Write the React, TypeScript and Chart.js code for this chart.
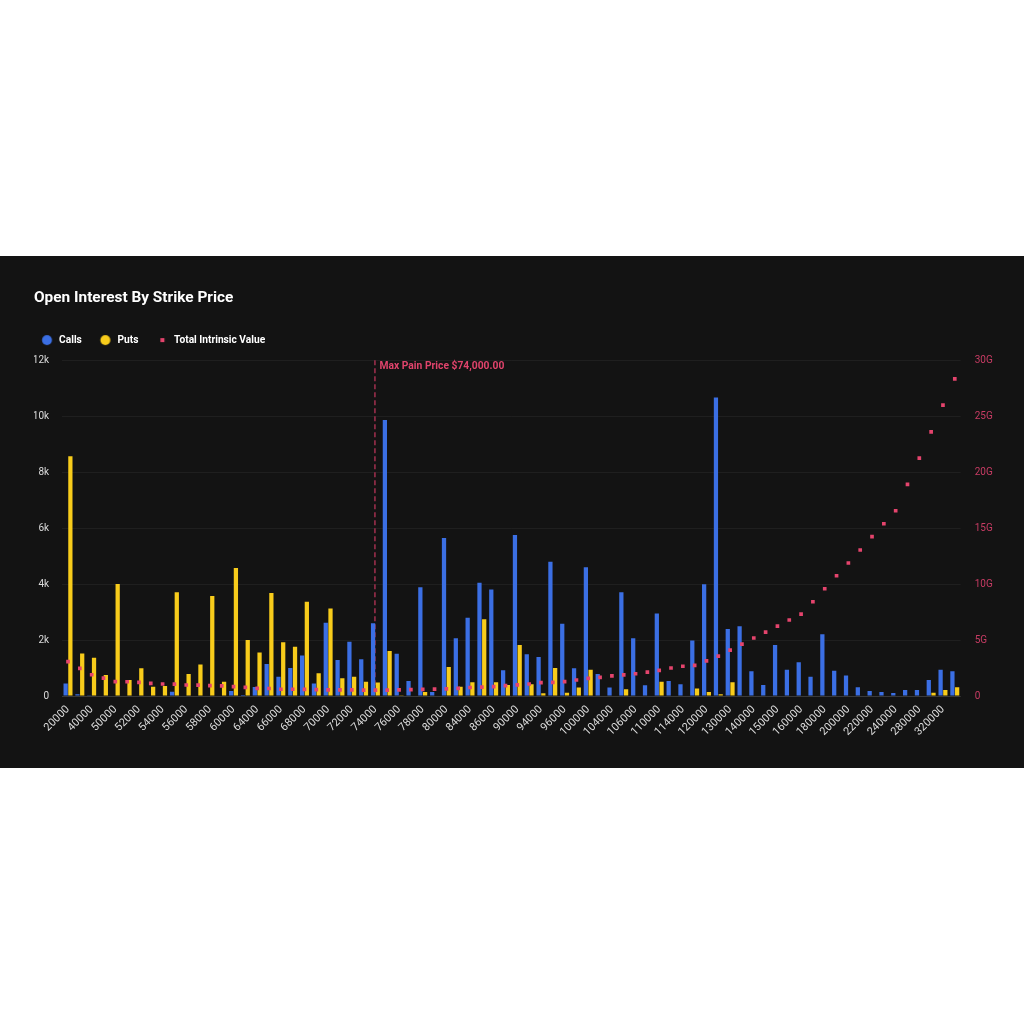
import React, { useEffect, useRef } from 'react';
import { Chart, registerables } from 'chart.js';

Chart.register(...registerables);

// ---------- data ----------
const strikes = [
  20000, 30000, 40000, 45000, 50000, 51000, 52000, 53000, 54000, 55000,
  56000, 57000, 58000, 59000, 60000, 62000, 64000, 65000, 66000, 67000,
  68000, 69000, 70000, 71000, 72000, 73000, 74000, 75000, 76000, 77000,
  78000, 79000, 80000, 82000, 84000, 85000, 86000, 88000, 90000, 92000,
  94000, 95000, 96000, 98000, 100000, 102000, 104000, 105000, 106000, 108000,
  110000, 112000, 114000, 115000, 120000, 125000, 130000, 135000, 140000, 145000,
  150000, 155000, 160000, 170000, 180000, 190000, 200000, 210000, 220000, 230000,
  240000, 260000, 280000, 300000, 320000, 340000,
];

const callsOI = [
  450, 60, 30, 0, 0, 0, 0, 0, 0, 150,
  0, 0, 0, 0, 180, 40, 320, 1140, 690, 1000,
  1450, 450, 2620, 1290, 1940, 1310, 2600, 9860, 1510, 540,
  3890, 140, 5650, 2060, 2800, 4050, 3810, 920, 5750, 1490,
  1390, 4800, 2580, 990, 4600, 790, 300, 3710, 2060, 380,
  2950, 540, 420, 1980, 3990, 10670, 2390, 2490, 880, 390,
  1820, 940, 1210, 690, 2210, 900, 730, 310, 180, 140,
  110, 210, 210, 570, 940, 880,
];

const putsOI = [
  8570, 1520, 1370, 750, 4000, 570, 990, 330, 360, 3710,
  790, 1130, 3570, 510, 4570, 2000, 1550, 3680, 1920, 1760,
  3370, 810, 3130, 630, 690, 510, 480, 1610, 30, 0,
  140, 0, 1040, 330, 490, 2740, 490, 390, 1820, 420,
  100, 1000, 120, 300, 940, 0, 0, 240, 0, 0,
  510, 0, 0, 270, 140, 60, 490, 0, 0, 0,
  0, 0, 20, 20, 0, 0, 0, 0, 0, 0,
  0, 0, 0, 120, 210, 310,
];

// Total intrinsic value, in billions (G)
const totalIntrinsicValueG = [
  3.07, 2.47, 1.9, 1.6, 1.28, 1.27, 1.22, 1.13, 1.07, 1.06,
  0.98, 0.97, 0.92, 0.9, 0.83, 0.77, 0.68, 0.67, 0.6, 0.6,
  0.59, 0.57, 0.55, 0.54, 0.54, 0.53, 0.52, 0.53, 0.54, 0.57,
  0.59, 0.61, 0.63, 0.68, 0.76, 0.79, 0.84, 0.92, 0.99, 1.07,
  1.19, 1.22, 1.28, 1.43, 1.58, 1.67, 1.8, 1.88, 1.99, 2.14,
  2.29, 2.5, 2.66, 2.74, 3.13, 3.57, 4.1, 4.64, 5.18, 5.71,
  6.25, 6.79, 7.32, 8.42, 9.58, 10.74, 11.88, 13.04, 14.23, 15.39,
  16.55, 18.9, 21.25, 23.6, 25.98, 28.33,
];

const maxPainStrike = 74000;
const maxPainText = 'Max Pain Price $74,000.00';
const titleText = 'Open Interest By Strike Price';
const legendLabels = ['Calls', 'Puts', 'Total Intrinsic Value'];

// ---------- styles ----------
const BG = '#131313';
const BLUE = '#3b6fe4';
const YELLOW = '#f8cc1b';
const RED = '#e5446d';
const RED_AXIS = '#c83c64';
const RED_LINE = '#a3304f';
const TEXT = '#dcdcdc';

function makeMarker(kind: 'circle' | 'square', color: string, offset: number): HTMLCanvasElement {
  const c = document.createElement('canvas');
  c.width = 24;
  c.height = 12;
  const g = c.getContext('2d')!;
  g.fillStyle = color;
  const cx = 12 + offset;
  if (kind === 'circle') {
    g.beginPath();
    g.arc(cx, 6, 5, 0, Math.PI * 2);
    g.fill();
  } else {
    g.fillRect(cx - 2, 4, 4, 4);
  }
  return c;
}

const legendShiftPlugin = {
  id: 'legendShift',
  afterLayout(chart: any) {
    const l = chart.legend;
    if (l) {
      l.left -= 10.5;
      l.right -= 10.5;
    }
  },
};

const maxPainPlugin = {
  id: 'maxPain',
  beforeDatasetsDraw(chart: any) {
    const { ctx, chartArea, scales } = chart;
    const idx = strikes.indexOf(maxPainStrike);
    const x = scales.x.getPixelForValue(idx) - 0.5;
    ctx.save();
    ctx.strokeStyle = RED_LINE;
    ctx.lineWidth = 1.5;
    ctx.setLineDash([5, 3]);
    ctx.beginPath();
    ctx.moveTo(x, chartArea.top);
    ctx.lineTo(x, chartArea.bottom);
    ctx.stroke();
    ctx.restore();
  },
  afterDatasetsDraw(chart: any) {
    const { ctx, chartArea, scales } = chart;
    const idx = strikes.indexOf(maxPainStrike);
    const x = scales.x.getPixelForValue(idx);
    ctx.save();
    ctx.fillStyle = '#e0446c';
    ctx.font = 'bold 10.3px Roboto';
    ctx.textAlign = 'left';
    ctx.textBaseline = 'middle';
    ctx.fillText(maxPainText, x + 4, chartArea.top + 6);
    ctx.restore();
  },
};

export default function App() {
  const ref = useRef<HTMLCanvasElement | null>(null);

  useEffect(() => {
    if (!ref.current) return;
    const callsMarker = makeMarker('circle', BLUE, 5.75);
    const putsMarker = makeMarker('circle', YELLOW, 5.75);
    const tivMarker = makeMarker('square', RED, 6.25);

    const chart = new Chart(ref.current, {
      type: 'bar',
      data: {
        labels: strikes.map(String),
        datasets: [
          {
            type: 'bar',
            label: legendLabels[0],
            data: callsOI,
            backgroundColor: BLUE,
            borderWidth: 0,
            yAxisID: 'y',
            order: 1,
          },
          {
            type: 'bar',
            label: legendLabels[1],
            data: putsOI,
            backgroundColor: YELLOW,
            borderWidth: 0,
            yAxisID: 'y',
            order: 1,
          },
          {
            type: 'line',
            label: legendLabels[2],
            data: totalIntrinsicValueG,
            yAxisID: 'y1',
            showLine: false,
            pointStyle: 'rect',
            pointRadius: 2.6,
            pointBackgroundColor: RED,
            pointBorderColor: RED,
            pointBorderWidth: 0,
            order: 0,
          },
        ] as any,
      },
      options: {
        animation: false,
        responsive: false,
        maintainAspectRatio: false,
        devicePixelRatio: 1,
        layout: { padding: { left: 34, right: 24, top: 32, bottom: 0 } },
        font: { family: 'Roboto' } as any,
        plugins: {
          title: {
            display: true,
            text: titleText,
            align: 'start',
            color: '#ffffff',
            font: { family: 'Roboto', size: 15.4, weight: 'bold' },
            padding: { top: 1, bottom: 22.5 },
          },
          legend: {
            display: true,
            position: 'top',
            align: 'start',
            labels: {
              usePointStyle: true,
              pointStyleWidth: 25.5,
              boxHeight: 10,
              padding: 5,
              color: '#ffffff',
              font: { family: 'Roboto', size: 10.2, weight: 'bold' },
              generateLabels: () => [
                { text: legendLabels[0], pointStyle: callsMarker, fillStyle: BLUE, strokeStyle: BLUE, lineWidth: 0, hidden: false, datasetIndex: 0, fontColor: '#ffffff' },
                { text: legendLabels[1], pointStyle: putsMarker, fillStyle: YELLOW, strokeStyle: YELLOW, lineWidth: 0, hidden: false, datasetIndex: 1, fontColor: '#ffffff' },
                { text: legendLabels[2], pointStyle: tivMarker, fillStyle: RED, strokeStyle: RED, lineWidth: 0, hidden: false, datasetIndex: 2, fontColor: '#ffffff' },
              ] as any,
            },
          },
          tooltip: { enabled: false },
        },
        scales: {
          x: {
            type: 'category',
            offset: true,
            grid: { display: false, drawTicks: false },
            border: { display: false },
            ticks: {
              color: TEXT,
              font: { family: 'Roboto', size: 11 },
              minRotation: 45,
              maxRotation: 45,
              autoSkip: true,
              padding: 7,
            },
            afterFit: (s: any) => {
              s.height = 72;
            },
          },
          xTop: {
            type: 'category',
            position: 'top',
            display: true,
            grid: { display: false, drawTicks: false },
            border: { display: false },
            ticks: { display: false },
            afterFit: (s: any) => {
              s.height = 5;
            },
          },
          y: {
            position: 'left',
            min: 0,
            max: 12000,
            ticks: {
              stepSize: 2000,
              color: TEXT,
              font: { family: 'Roboto', size: 10 },
              padding: 13,
              callback: (v: any) => (v === 0 ? '0' : `${v / 1000}k`),
            },
            grid: {
              color: (c: any) => (c.tick && c.tick.value === 0 ? '#3a3a3a' : 'rgba(255,255,255,0.05)'),
              drawTicks: false,
            },
            border: { display: false },
            afterFit: (s: any) => {
              s.width = 28.1;
            },
          },
          y1: {
            position: 'right',
            min: 0,
            max: 30,
            ticks: {
              stepSize: 5,
              color: RED_AXIS,
              font: { family: 'Roboto', size: 10 },
              padding: 14,
              callback: (v: any) => (v === 0 ? '0' : `${v}G`),
            },
            grid: { drawOnChartArea: false, drawTicks: false },
            border: { display: false },
            afterFit: (s: any) => {
              s.width = 39.3;
            },
          },
        },
      } as any,
      plugins: [legendShiftPlugin, maxPainPlugin],
    });
    return () => chart.destroy();
  }, []);

  return (
    <div
      style={{
        position: 'absolute',
        left: 0,
        top: 256,
        width: 1024,
        height: 512,
        background: BG,
      }}
    >
      <canvas ref={ref} width={1024} height={512} style={{ display: 'block', width: 1024, height: 512 }} />
    </div>
  );
}
